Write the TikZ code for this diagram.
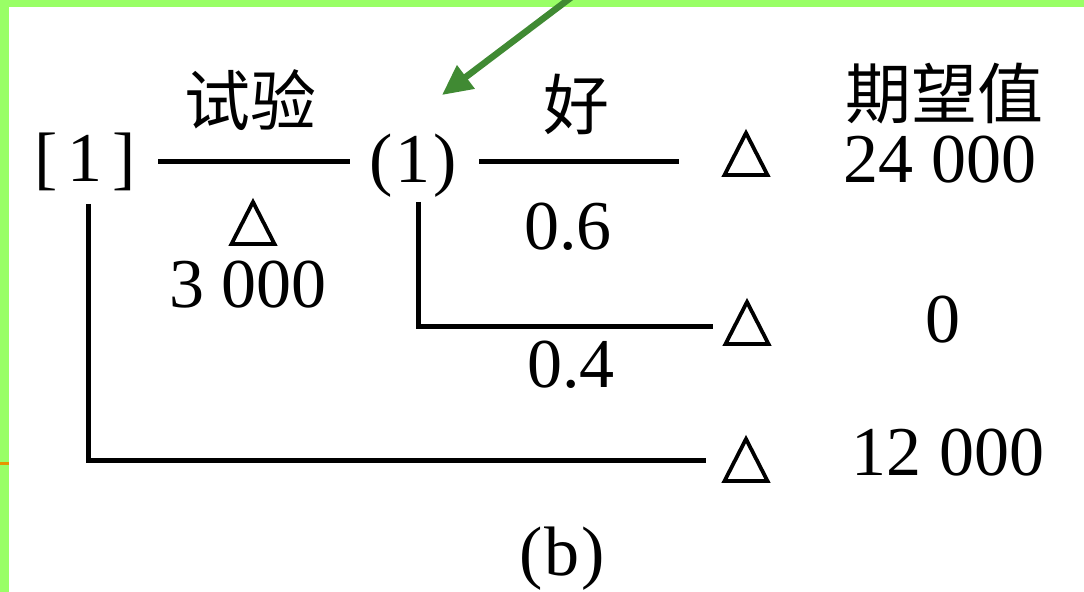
\documentclass[tikz,border=0pt]{standalone}
\usepackage{fontspec}
\setmainfont{Liberation Serif}
\newfontfamily\cjk{Noto Sans CJK SC}
\usetikzlibrary{arrows.meta}
\definecolor{frameg}{HTML}{99FF66}
\definecolor{arrowg}{HTML}{408A33}
\definecolor{tickor}{HTML}{E69500}
\tikzset{
  num/.style={anchor=base, inner sep=0pt, font=\fontsize{70bp}{80bp}\selectfont},
  zh/.style={anchor=center, inner sep=0pt, font=\cjk\fontsize{66bp}{76bp}\selectfont},
  branch/.style={line width=5bp, line cap=butt, line join=miter},
  tri/.pic={\draw[line width=3.8bp, line join=miter, miter limit=3] (-21.5,22) -- (0,-20) -- (21.5,22) -- cycle;},
  pointer/.style={arrowg, line width=6.5bp, -{Triangle[length=30bp,width=28bp]}}
}
\begin{document}
\begin{tikzpicture}[x=1bp,y=-1bp]
\useasboundingbox (0,0) rectangle (1084,592);
\fill[white] (0,0) rectangle (1084,592);
% frame
\fill[frameg] (0,0) rectangle (1084,7);
\fill[frameg] (0,0) rectangle (9,592);
\fill[tickor] (0,462) rectangle (9,465);

% text nodes
\node[num] (dec) at (85,182) {[\kern10bp 1\kern10bp]};
\node[num] (chance) at (413,183) {(\kern3bp 1\kern3bp)};
\node[zh] (test) at (250,100) {试验};
\node[zh] (good) at (576,104) {好};
\node[zh] (ev) at (944,94) {期望值};
\node[num] (v1) at (940,183) {24 000};
\node[num] (cost) at (248,308) {3 000};
\node[num] (p6) at (568,250) {0.6};
\node[num] (p4) at (571,387) {0.4};
\node[num] (v2) at (943,342) {0};
\node[num] (v3) at (948,475) {12 000};
\node[num] (cap) at (562,575) {(\kern2bp b\kern2bp)};

% triangles
\pic at (746,153) {tri};
\pic at (253,222) {tri};
\pic at (747,322) {tri};
\pic at (746,459) {tri};

% connectors
\coordinate (a0) at (158,162);
\coordinate (a1) at (350,162);
\coordinate (b0) at (479,162);
\coordinate (b1) at (679,162);
\coordinate (c0) at (418,202);
\coordinate (c1) at (418,326);
\coordinate (c2) at (713,326);
\coordinate (d0) at (88,204);
\coordinate (d1) at (88,460);
\coordinate (d2) at (706,460);
\draw[branch] (a0) -- (a1);
\draw[branch] (b0) -- (b1);
\draw[branch] (c0) -- (c1) -- (c2);
\draw[branch] (d0) -- (d1) -- (d2);

% green pointer
\coordinate (g0) at (573,-4);
\coordinate (g1) at (442,95);
\draw[pointer] (g0) -- (g1);
\end{tikzpicture}
\end{document}
